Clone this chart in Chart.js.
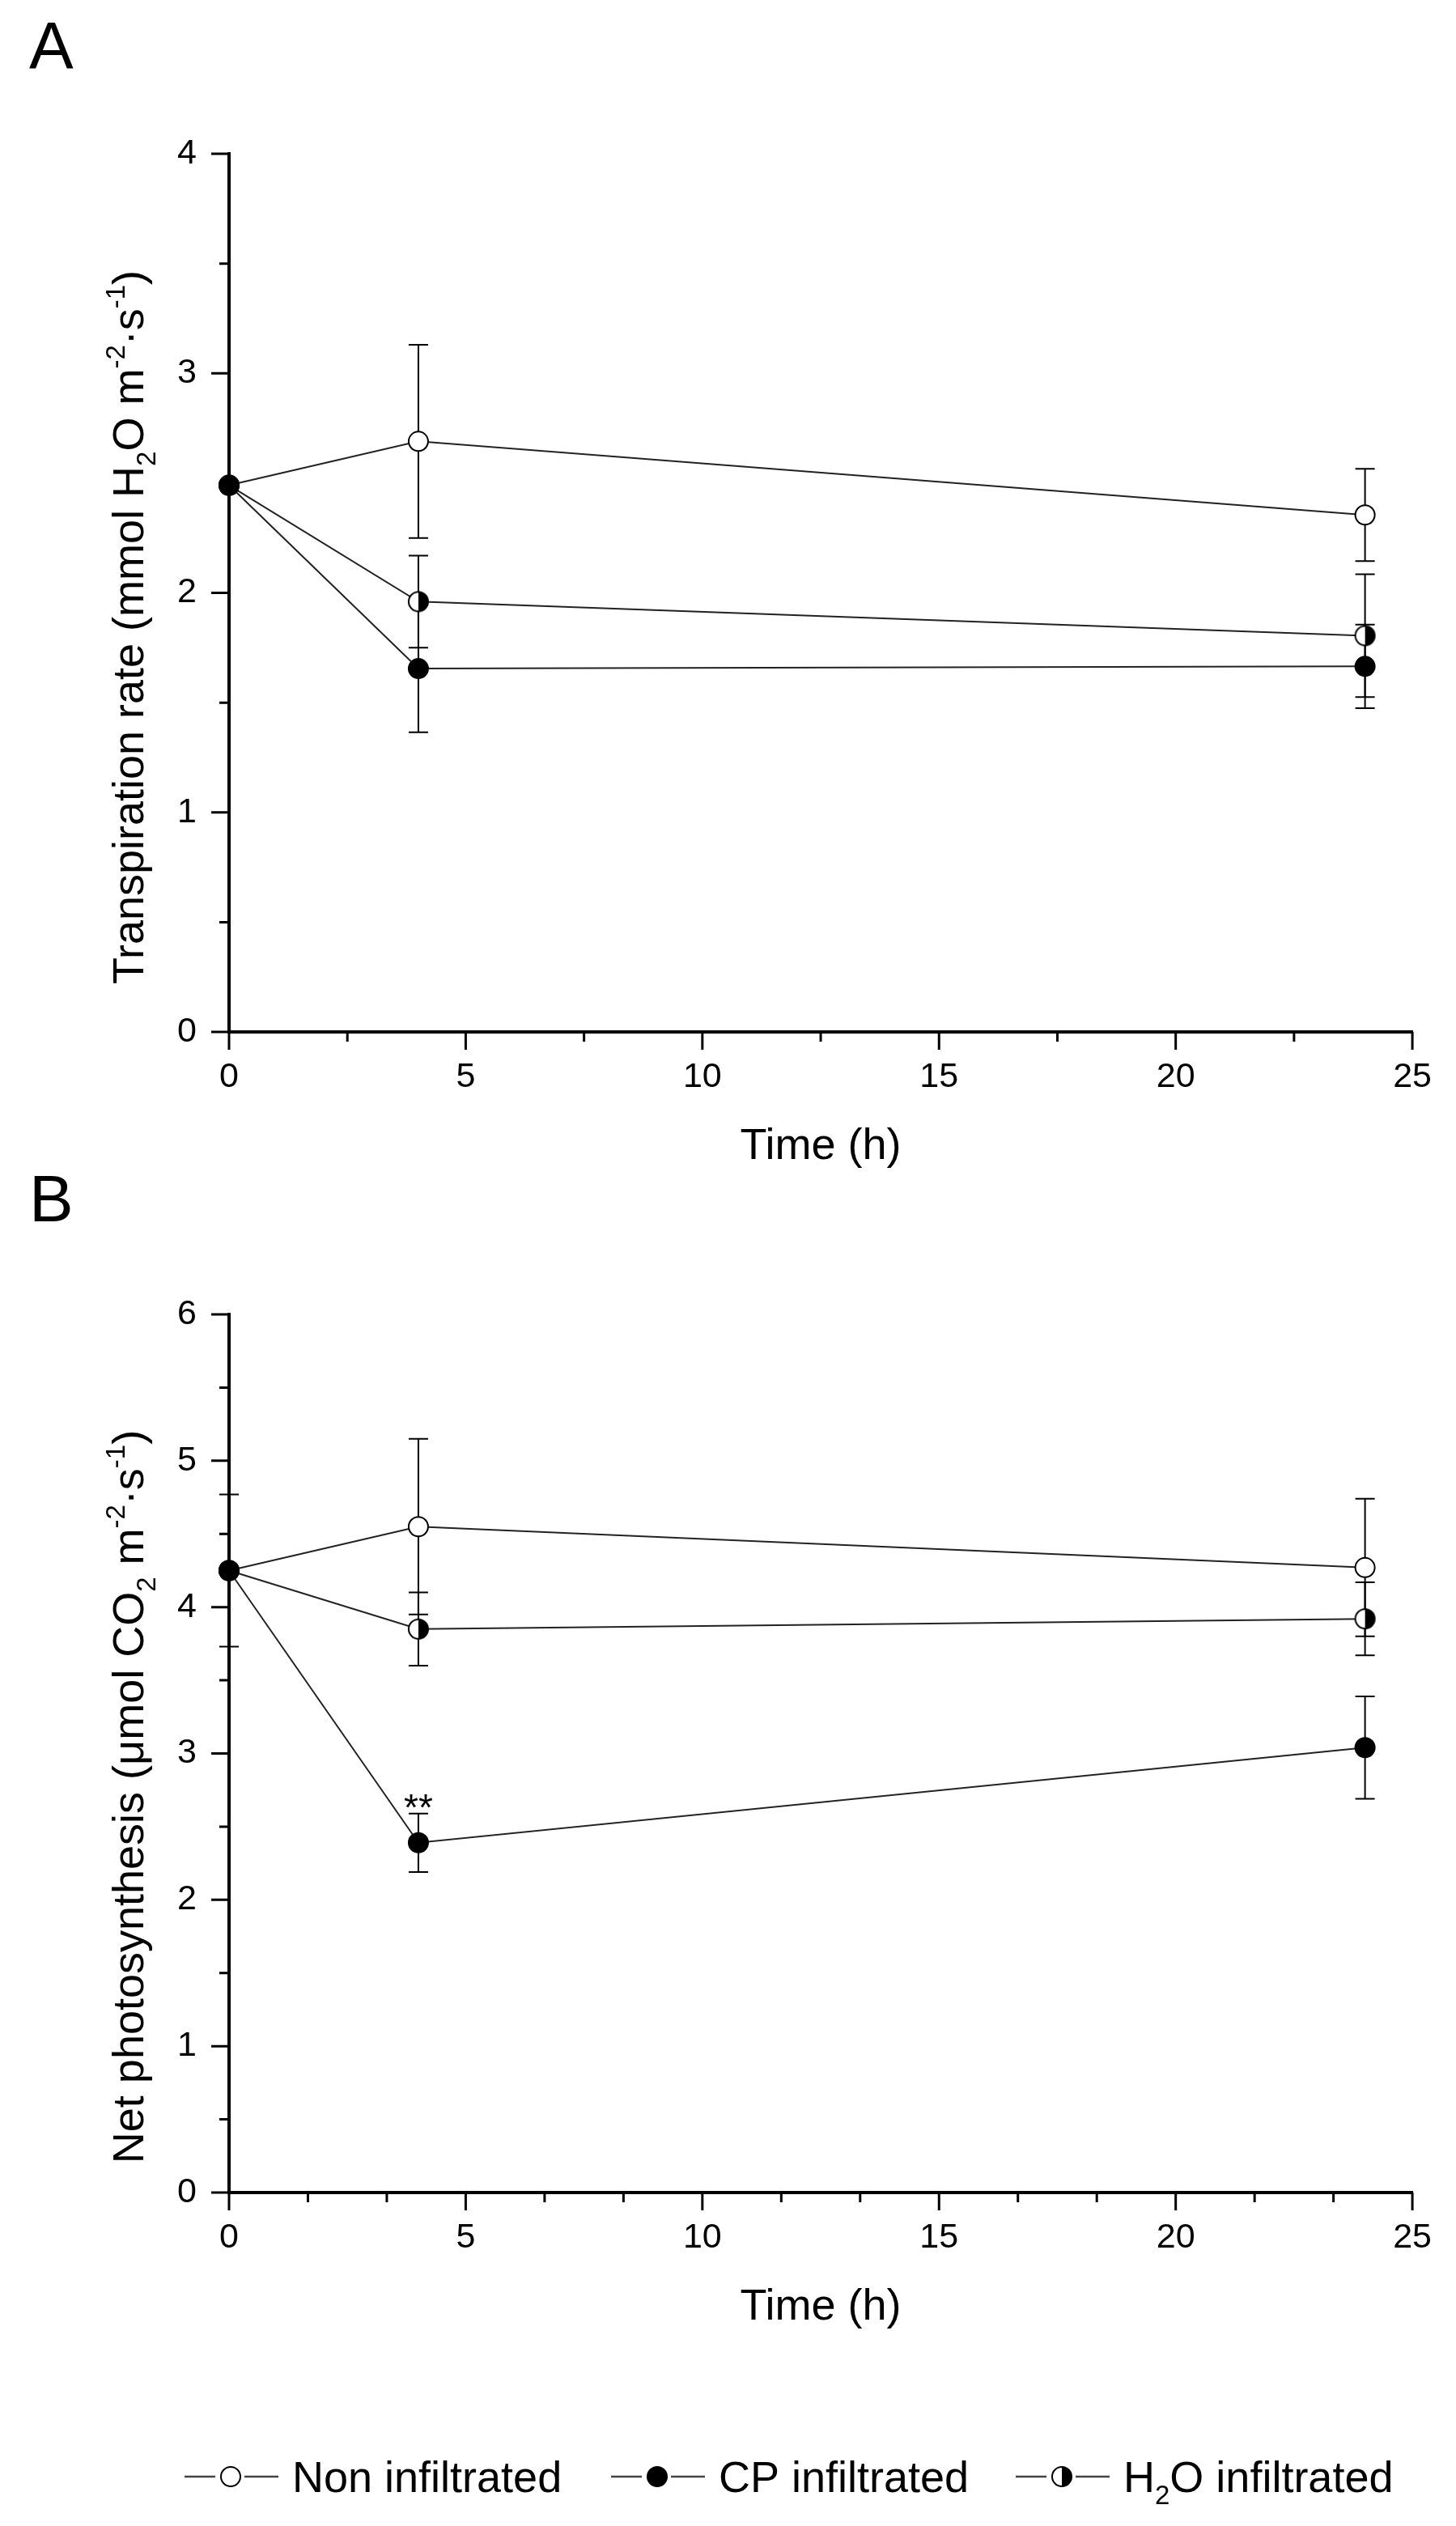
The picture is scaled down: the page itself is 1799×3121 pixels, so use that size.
<!DOCTYPE html>
<html>
<head>
<meta charset="utf-8">
<script src="https://cdn.jsdelivr.net/npm/chart.js@4.4.0/dist/chart.umd.min.js"></script>
<style>
  body { margin: 0; background: #fff; width: 1799px; height: 3121px; position: relative; overflow: hidden; }
  canvas { position: absolute; left: 0; }
  #chartA { top: 0; width: 1799px; height: 1460px; }
  #chartB { top: 1400px; width: 1799px; height: 1721px; }
</style>
</head>
<body>
<canvas id="chartA" width="1799" height="1460"></canvas>
<canvas id="chartB" width="1799" height="1721"></canvas>
<script>
// sampling times (h)
const hours = [0, 4, 24];

// panel A - transpiration rate (mmol H2O m-2 s-1), mean and error
const transNon = [2.49, 2.69, 2.355];
const transNonErr = [0, 0.44, 0.21];
const transCP = [2.49, 1.655, 1.665];
const transCPErr = [0, 0.29, 0.19];
const transH2O = [2.49, 1.96, 1.805];
const transH2OErr = [0, 0.21, 0.28];

// panel B - net photosynthesis (umol CO2 m-2 s-1)
const photoNon = [4.25, 4.55, 4.27];
const photoNonErr = [0.52, 0.60, 0.47];
const photoCP = [4.25, 2.39, 3.04];
const photoCPErr = [0, 0.20, 0.35];
const photoH2O = [4.25, 3.85, 3.92];
const photoH2OErr = [0, 0.25, 0.25];

const seriesNames = ['Non infiltrated', 'CP infiltrated', 'H2O infiltrated'];

// axis ticks
const xMajor = [0, 5, 10, 15, 20, 25];
const xMinorA = [2.5, 7.5, 12.5, 17.5, 22.5];
const xMinorB = [5/3, 10/3, 20/3, 25/3, 35/3, 40/3, 50/3, 55/3, 65/3, 70/3];
const yMajorA = [0, 1, 2, 3, 4];
const yMinorA = [0.5, 1.5, 2.5, 3.5];
const yMajorB = [0, 1, 2, 3, 4, 5, 6];
const yMinorB = [0.5, 1.5, 2.5, 3.5, 4.5, 5.5];

const FONT = '"Liberation Sans", Arial, sans-serif';
const LINE = '#222';

// half filled marker (left white, right black)
function halfMarker(r) {
  const c = document.createElement('canvas');
  const s = 2 * r + 4;
  c.width = s; c.height = s;
  const g = c.getContext('2d');
  const m = s / 2;
  g.fillStyle = '#fff';
  g.beginPath(); g.arc(m, m, r, 0, Math.PI * 2); g.fill();
  g.fillStyle = '#000';
  g.beginPath(); g.moveTo(m, m); g.arc(m, m, r, -Math.PI / 2, Math.PI / 2); g.closePath(); g.fill();
  g.lineWidth = 2; g.strokeStyle = '#000';
  g.beginPath(); g.arc(m, m, r, 0, Math.PI * 2); g.stroke();
  return c;
}
const halfImg = halfMarker(12);

const markers = [
  { ps: 'circle', bg: '#fff' },
  { ps: 'circle', bg: '#000' },
  { ps: halfImg, bg: '#000' }
];

function makeDataset(label, ys, errs, mk) {
  return {
    label: label,
    data: hours.map((h, i) => ({ x: h, y: ys[i] })),
    errors: errs,
    borderColor: LINE,
    borderWidth: 2,
    pointStyle: mk.ps,
    pointRadius: 12,
    pointBackgroundColor: mk.bg,
    pointBorderColor: '#000',
    pointBorderWidth: 2,
    clip: false,
    tension: 0
  };
}

function drawRich(ctx, segs, size, x, y, center) {
  const small = Math.round(size * 0.62);
  let total = 0;
  const parts = segs.map(([t, k]) => {
    ctx.font = (k ? small : size) + 'px ' + FONT;
    const w = ctx.measureText(t).width;
    total += w;
    return { t, k, w };
  });
  let cx = center ? x - total / 2 : x;
  ctx.textAlign = 'left';
  ctx.textBaseline = 'alphabetic';
  parts.forEach(p => {
    ctx.font = (p.k ? small : size) + 'px ' + FONT;
    const dy = p.k === 1 ? -size * 0.42 : p.k === -1 ? size * 0.28 : 0;
    ctx.fillText(p.t, cx, y + dy);
    cx += p.w;
  });
}

// error bars under the markers
const errorBars = {
  id: 'errorBars',
  beforeDatasetsDraw(chart) {
    const ctx = chart.ctx;
    const ys = chart.scales.y;
    ctx.save();
    ctx.strokeStyle = '#000';
    ctx.lineWidth = 2;
    chart.data.datasets.forEach((ds, i) => {
      const meta = chart.getDatasetMeta(i);
      meta.data.forEach((pt, j) => {
        const e = ds.errors[j];
        if (!e) return;
        const v = ds.data[j].y;
        const top = ys.getPixelForValue(v + e);
        const bot = ys.getPixelForValue(v - e);
        ctx.beginPath();
        ctx.moveTo(pt.x, top); ctx.lineTo(pt.x, bot);
        ctx.moveTo(pt.x - 12, top); ctx.lineTo(pt.x + 12, top);
        ctx.moveTo(pt.x - 12, bot); ctx.lineTo(pt.x + 12, bot);
        ctx.stroke();
      });
    });
    ctx.restore();
  }
};

// ticks, panel letter, axis titles, legend
const decor = {
  id: 'decor',
  afterDraw(chart, args, o) {
    const ctx = chart.ctx;
    const xs = chart.scales.x, ys = chart.scales.y;
    const ca = chart.chartArea;
    ctx.save();
    ctx.strokeStyle = '#000';
    ctx.lineWidth = 3;
    ctx.beginPath();
    o.xMajor.forEach(v => { const p = xs.getPixelForValue(v); ctx.moveTo(p, ca.bottom); ctx.lineTo(p, ca.bottom + 22); });
    o.xMinor.forEach(v => { const p = xs.getPixelForValue(v); ctx.moveTo(p, ca.bottom); ctx.lineTo(p, ca.bottom + 12); });
    o.yMajor.forEach(v => { const p = ys.getPixelForValue(v); ctx.moveTo(ca.left, p); ctx.lineTo(ca.left - 22, p); });
    o.yMinor.forEach(v => { const p = ys.getPixelForValue(v); ctx.moveTo(ca.left, p); ctx.lineTo(ca.left - 12, p); });
    ctx.stroke();

    ctx.fillStyle = '#000';
    ctx.font = '82px ' + FONT;
    ctx.textAlign = 'left';
    ctx.textBaseline = 'alphabetic';
    ctx.fillText(o.letter, 36, o.letterY);

    drawRich(ctx, [['Time (h)', 0]], 54, (ca.left + ca.right) / 2, o.xTitleY, true);

    ctx.save();
    ctx.translate(177, o.yTitleCenter);
    ctx.rotate(-Math.PI / 2);
    drawRich(ctx, o.yTitle, 54, 0, 0, true);
    ctx.restore();

    if (o.stars) {
      const s = o.stars;
      ctx.font = '46px ' + FONT;
      ctx.textAlign = 'center';
      ctx.fillText('**', xs.getPixelForValue(s.x), ys.getPixelForValue(s.y) + 8);
    }

    if (o.legend) {
      const ly = o.legend.y;
      const centers = [285, 812, 1312];
      const labels = [
        [[seriesNames[0], 0]],
        [[seriesNames[1], 0]],
        [['H', 0], ['2', -1], ['O infiltrated', 0]]
      ];
      centers.forEach((cx, i) => {
        const my = ly - 19;
        ctx.strokeStyle = '#444';
        ctx.lineWidth = 2.5;
        ctx.beginPath();
        ctx.moveTo(cx - 57, my); ctx.lineTo(cx - 19, my);
        ctx.moveTo(cx + 17, my); ctx.lineTo(cx + 59, my);
        ctx.stroke();
        if (i === 2) {
          ctx.drawImage(halfImg, cx - halfImg.width / 2, my - halfImg.height / 2);
        } else {
          ctx.beginPath();
          ctx.arc(cx, my, 12, 0, Math.PI * 2);
          ctx.fillStyle = markers[i].bg;
          ctx.fill();
          ctx.lineWidth = 2; ctx.strokeStyle = '#000';
          ctx.stroke();
        }
        ctx.fillStyle = '#000';
        drawRich(ctx, labels[i], 54, cx + 76, ly, false);
      });
    }
    ctx.restore();
  }
};

function makeChart(id, sets, yMax, padTop, xHeight, decorOpts) {
  return new Chart(document.getElementById(id), {
    type: 'line',
    data: { datasets: sets },
    options: {
      responsive: false,
      maintainAspectRatio: false,
      devicePixelRatio: 1,
      animation: false,
      events: [],
      layout: { padding: { top: padTop, right: 42, left: 0, bottom: 0 } },
      scales: {
        x: {
          type: 'linear', min: 0, max: 25,
          grid: { display: false, drawTicks: false },
          border: { display: true, color: '#000', width: 4 },
          ticks: { stepSize: 5, padding: 30, color: '#000', font: { family: FONT, size: 43 } },
          afterFit: s => { s.height = xHeight; }
        },
        y: {
          type: 'linear', min: 0, max: yMax,
          grid: { display: false, drawTicks: false },
          border: { display: true, color: '#000', width: 4 },
          ticks: { stepSize: 1, padding: 40, color: '#000', font: { family: FONT, size: 43 } },
          afterFit: s => { s.width = 283; }
        }
      },
      plugins: {
        legend: { display: false },
        tooltip: { enabled: false },
        decor: decorOpts
      }
    },
    plugins: [errorBars, decor]
  });
}

// dataset 0 is drawn last by Chart.js, so the filled CP marker sits on top at t = 0
makeChart('chartA', [
  makeDataset(seriesNames[1], transCP, transCPErr, markers[1]),
  makeDataset(seriesNames[0], transNon, transNonErr, markers[0]),
  makeDataset(seriesNames[2], transH2O, transH2OErr, markers[2])
], 4, 190, 185, {
  letter: 'A', letterY: 84,
  xMajor: xMajor, xMinor: xMinorA, yMajor: yMajorA, yMinor: yMinorA,
  xTitleY: 1432, yTitleCenter: 775,
  yTitle: [['Transpiration rate (mmol H', 0], ['2', -1], ['O m', 0], ['-2', 1], ['\u00b7s', 0], ['-1', 1], [')', 0]]
});

makeChart('chartB', [
  makeDataset(seriesNames[1], photoCP, photoCPErr, markers[1]),
  makeDataset(seriesNames[0], photoNon, photoNonErr, markers[0]),
  makeDataset(seriesNames[2], photoH2O, photoH2OErr, markers[2])
], 6, 224, 412, {
  letter: 'B', letterY: 109,
  xMajor: xMajor, xMinor: xMinorB, yMajor: yMajorB, yMinor: yMinorB,
  xTitleY: 1466, yTitleCenter: 820,
  yTitle: [['Net photosynthesis (\u03bcmol CO', 0], ['2', -1], [' m', 0], ['-2', 1], ['\u00b7s', 0], ['-1', 1], [')', 0]],
  stars: { x: hours[1], y: photoCP[1] + photoCPErr[1] },
  legend: { y: 1679 }
});
</script>
</body>
</html>
